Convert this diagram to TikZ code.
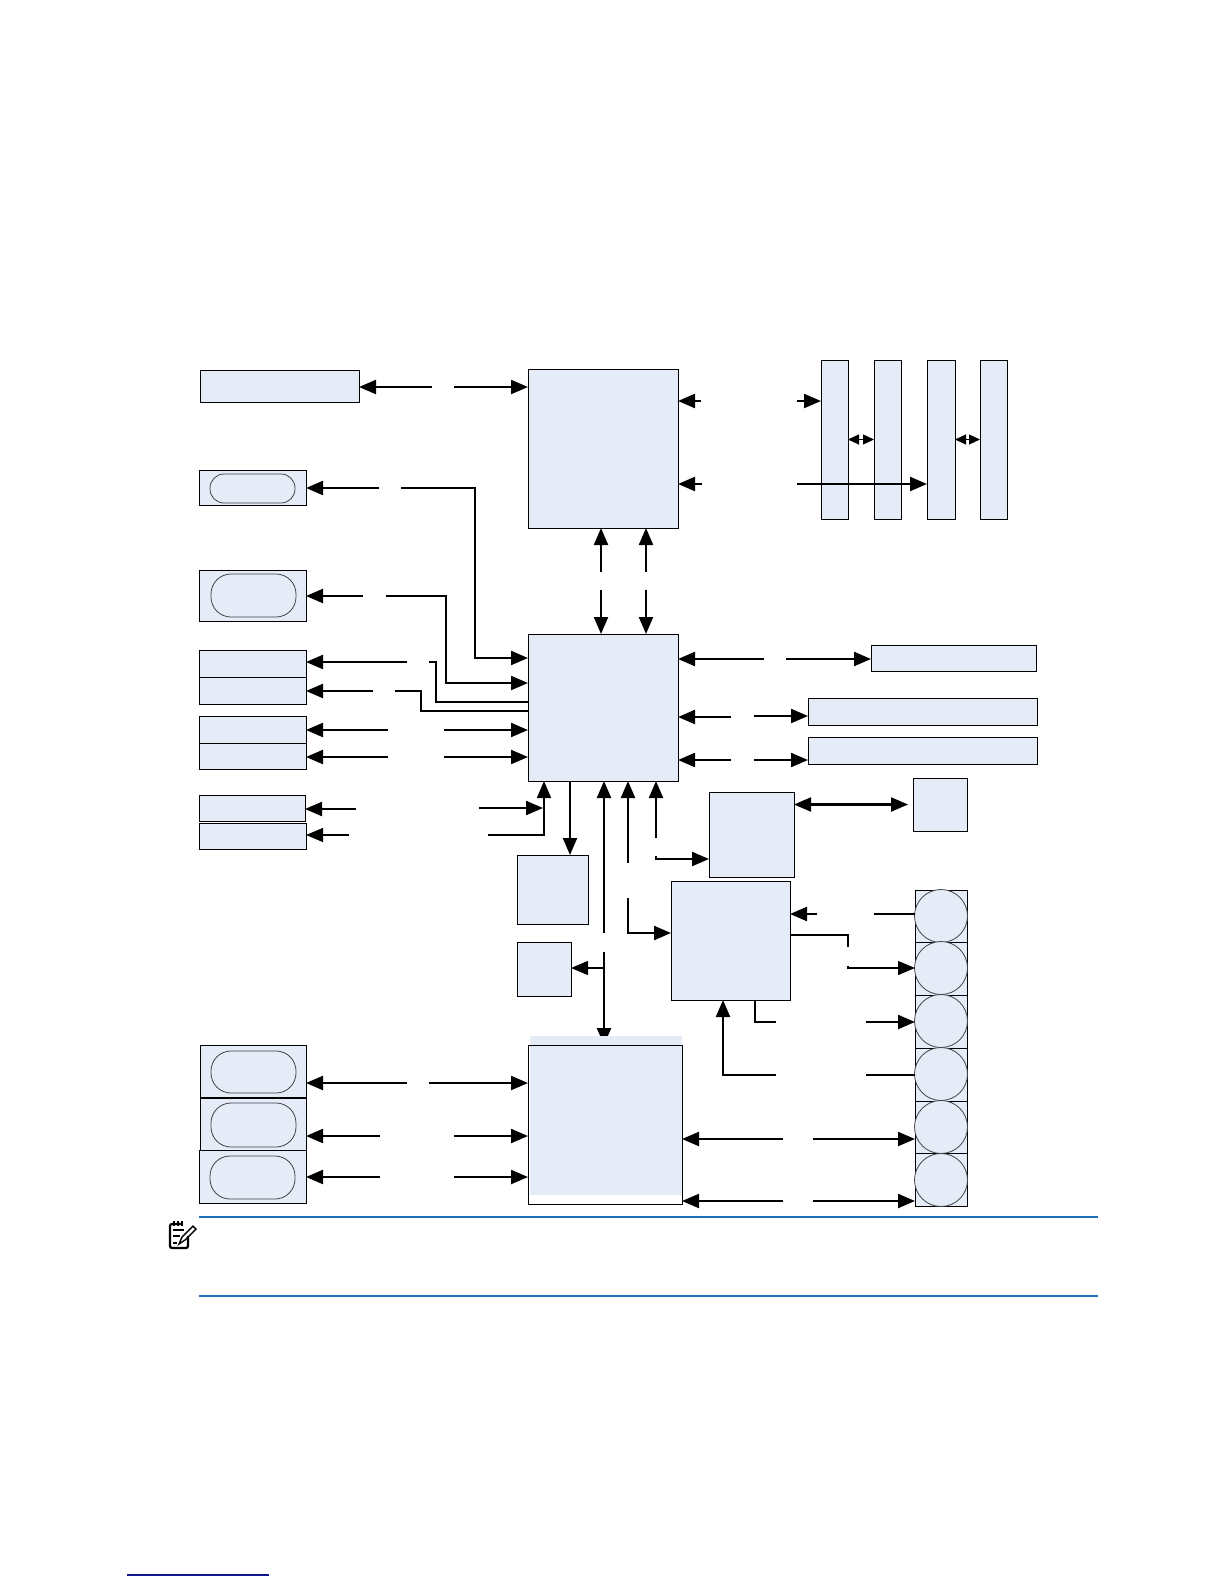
\documentclass[tikz,border=0pt]{standalone}
\usepackage{xcolor}
\usetikzlibrary{positioning,arrows.meta,fit,calc}
\definecolor{cfondo}{HTML}{E6ECF7}
\definecolor{cazul}{HTML}{1F6FB8}
\definecolor{cmarino}{HTML}{14148C}
\definecolor{cgris}{HTML}{3E444A}
\tikzset{
  caja/.style={rectangle, draw=black, fill=cfondo, line width=0.5pt, inner sep=0pt, outer sep=0pt},
  ovalo/.style={caja, draw=cgris, line width=0.4pt, rounded corners=#1},
  circulo/.style={circle, draw=cgris, fill=cfondo, line width=0.4pt, inner sep=0pt, outer sep=0pt, minimum size=26.5pt},
  flecha/.style={-{Triangle[length=8.5pt,width=7pt]}, line width=1.1pt, draw=black},
  flechaf/.style={flecha, line width=0.6pt},
  flechad/.style={{Triangle[length=5.5pt,width=5pt]}-{Triangle[length=5.5pt,width=5pt]}, line width=0.6pt},
  linea/.style={line width=1.1pt, draw=black},
}
\begin{document}
\begin{tikzpicture}[x=0.5pt,y=-0.5pt]
  \useasboundingbox (0,0) rectangle (1224,1584);
  % bloques de la izquierda
  \node[caja, fit={(200,370) (359,402)}] (mem) {};
  \node[caja, fit={(199,470) (306,505)}] (sloti) {};
  \node[ovalo=7pt, fit={(210,474) (295,503)}] (ovi) {};
  \node[caja, fit={(199,570) (306,621)}] (slotii) {};
  \node[ovalo=10pt, fit={(211,574) (296,617)}] (ovii) {};
  \node[caja, fit={(199,650) (306,677)}] (ca) {};
  \node[caja, fit={(199,677) (306,704)}] (cb) {};
  \node[caja, fit={(199,716) (306,743)}] (da) {};
  \node[caja, fit={(199,743) (306,769)}] (db) {};
  \node[caja, fit={(199,795) (305,821)}] (ea) {};
  \node[caja, fit={(199,823) (306,849)}] (eb) {};
  \node[caja, fit={(200,1045) (306,1097.5)}] (fa) {};
  \node[ovalo=10pt, fit={(211,1051) (296,1093)}] (ova) {};
  \node[caja, fit={(200,1098.5) (306,1150)}] (fb) {};
  \node[ovalo=10pt, fit={(211,1103) (296,1147)}] (ovb) {};
  \node[caja, fit={(199,1150) (306,1203)}] (fc) {};
  \node[ovalo=10pt, fit={(210,1156) (295,1199)}] (ovc) {};
  % bloques centrales
  \node[caja, fit={(528,369) (678,528)}] (norte) {};
  \node[caja, fit={(528,634) (678,781)}] (sur) {};
  \node[caja, fit={(517,855) (588,924)}] (q) {};
  \node[caja, fit={(517,942) (571,996)}] (peq) {};
  \node[caja, fit={(709,792) (794,877)}] (p) {};
  \node[caja, fit={(671,881) (790,1000)}] (h) {};
  % la punta queda tapada por la banda superior
  \coordinate (t3) at (604,952);
  \coordinate (t5) at (604,1045);
  \draw[flecha] (t3) -- (t5);
  \node[caja, draw=none, fit={(530,1036) (682,1195)}] (fondo) {};
  \node[caja, fill=none, fit={(528,1045) (682,1204)}] (io) {};
  % bloques de la derecha
  \foreach \n/\xa/\xb in {ma/821/848, mb/874/901, mc/927/955, md/980/1007}
    \node[caja, fit={(\xa,360) (\xb,519)}] (\n) {};
  \node[caja, fit={(871,645) (1036,671)}] (ra) {};
  \node[caja, fit={(808,698) (1037,725)}] (rb) {};
  \node[caja, fit={(808,737) (1037,764)}] (rc) {};
  \node[caja, fit={(913,778) (967,831)}] (cuad) {};
  \foreach \i/\ya/\yb/\yc in {1/890/942/916, 2/942/995/968, 3/995/1048/1021, 4/1048/1101/1074, 5/1101/1153/1127, 6/1153/1206/1180} {
    \node[caja, fit={(915,\ya) (967,\yb)}] (k\i) {};
    \node[circulo] (c\i) at (941,\yc) {};
  }
  % extremos libres
  \coordinate (a1) at (432,387);
  \coordinate (a2) at (454,387);
  \coordinate (b1) at (379,488);
  \coordinate (b2) at (401,488);
  \coordinate (b3) at (475,658);
  \coordinate (d1) at (363,596);
  \coordinate (d2) at (386,596);
  \coordinate (d3) at (446,683);
  \coordinate (e1) at (407,662);
  \coordinate (e2) at (429,662);
  \coordinate (e3) at (436,702);
  \coordinate (f1) at (373,691);
  \coordinate (f2) at (395,691);
  \coordinate (f3) at (421,711);
  \coordinate (g1) at (388,730);
  \coordinate (g2) at (444,730);
  \coordinate (h1) at (388,757);
  \coordinate (h2) at (444,757);
  \coordinate (i1) at (356,809);
  \coordinate (i2) at (479,808);
  \coordinate (i3) at (543,808);
  \coordinate (j1) at (349,835);
  \coordinate (j2) at (488,835);
  \coordinate (j3) at (544,835);
  \coordinate (l1) at (407,1083);
  \coordinate (l2) at (429,1083);
  \coordinate (l3) at (380,1136);
  \coordinate (l4) at (454,1136);
  \coordinate (l5) at (380,1177);
  \coordinate (l6) at (454,1177);
  \coordinate (n1) at (601,572);
  \coordinate (n2) at (601,590);
  \coordinate (n3) at (646,572);
  \coordinate (n4) at (646,590);
  \coordinate (o1) at (701,401);
  \coordinate (o2) at (797,401);
  \coordinate (o3) at (702,484);
  \coordinate (o4) at (797,484);
  \coordinate (s1) at (764,659);
  \coordinate (s2) at (786,659);
  \coordinate (s3) at (731,717);
  \coordinate (s4) at (754,716);
  \coordinate (s5) at (731,760);
  \coordinate (s6) at (754,760);
  \coordinate (t1) at (570,781);
  \coordinate (t2) at (604,933);
  \coordinate (t4) at (604,968);
  \coordinate (u1) at (628,863);
  \coordinate (u2) at (628,898);
  \coordinate (u3) at (628,933);
  \coordinate (v1) at (656,838);
  \coordinate (v2) at (656,856);
  \coordinate (v3) at (656,859);
  \coordinate (w1) at (817,914);
  \coordinate (w2) at (874,914);
  \coordinate (w3) at (790,935);
  \coordinate (w4) at (848,935);
  \coordinate (w5) at (848,947);
  \coordinate (w6) at (848,966);
  \coordinate (w7) at (848,968);
  \coordinate (y1) at (755,1000);
  \coordinate (y2) at (755,1022);
  \coordinate (y3) at (776,1022);
  \coordinate (y4) at (866,1022);
  \coordinate (y5) at (776,1075);
  \coordinate (y6) at (723,1075);
  \coordinate (y7) at (866,1075);
  \coordinate (z1) at (783,1139);
  \coordinate (z2) at (813,1139);
  \coordinate (z3) at (783,1201);
  \coordinate (z4) at (813,1201);
  % conectores de la izquierda
  \draw[flecha] (a1) -- (mem.east |- a1);
  \draw[flecha] (a2) -- (norte.west |- a2);
  \draw[flecha] (b1) -- (sloti.east |- b1);
  \draw[flecha] (b2) -| (b3) -- (sur.west |- b3);
  \draw[flecha] (d1) -- (slotii.east |- d1);
  \draw[flecha] (d2) -| (d3) -- (sur.west |- d3);
  \draw[flecha] (e1) -- (ca.east |- e1);
  \draw[linea] (e2) -| (e3) -- (sur.west |- e3);
  \draw[flecha] (f1) -- (cb.east |- f1);
  \draw[linea] (f2) -| (f3) -- (sur.west |- f3);
  \draw[flecha] (g1) -- (da.east |- g1);
  \draw[flecha] (g2) -- (sur.west |- g2);
  \draw[flecha] (h1) -- (db.east |- h1);
  \draw[flecha] (h2) -- (sur.west |- h2);
  \draw[flecha] (i1) -- (ea.east |- i1);
  \draw[flecha] (i2) -- (i3);
  \draw[flechaf] (j1) -- (eb.east |- j1);
  \draw[flecha, line width=0.8pt] (j2) -- (j3) -- (j3 |- sur.south);
  \draw[flecha] (l1) -- (fa.east |- l1);
  \draw[flecha] (l2) -- (io.west |- l2);
  \draw[flecha] (l3) -- (fb.east |- l3);
  \draw[flecha] (l4) -- (io.west |- l4);
  \draw[flecha] (l5) -- (fc.east |- l5);
  \draw[flecha] (l6) -- (io.west |- l6);
  % conectores centrales
  \draw[flecha] (n1) -- (n1 |- norte.south);
  \draw[flecha] (n2) -- (n2 |- sur.north);
  \draw[flecha] (n3) -- (n3 |- norte.south);
  \draw[flecha] (n4) -- (n4 |- sur.north);
  \draw[flecha] (t1) -- (t1 |- q.north);
  \draw[flecha] (t2) -- (t2 |- sur.south);
  \draw[flechaf] (t4) -- (peq.east |- t4);
  \draw[flecha] (u1) -- (u1 |- sur.south);
  \draw[flecha] (u2) -- (u3) -- (h.west |- u3);
  \draw[flecha] (v1) -- (v1 |- sur.south);
  \draw[flecha] (v2) -- (v3) -- (p.west |- v3);
  % conectores de la derecha
  \draw[flecha] (o1) -- (norte.east |- o1);
  \draw[flecha] (o2) -- (ma.west |- o2);
  \draw[flecha] (o3) -- (norte.east |- o3);
  \draw[flecha] (o4) -- (mc.west |- o4);
  \draw[flechad] (ma.east) -- (mb.west);
  \draw[flechad] (mc.east) -- (md.west);
  \draw[flecha] (s1) -- (sur.east |- s1);
  \draw[flecha] (s2) -- (ra.west |- s2);
  \draw[flecha] (s3) -- (sur.east |- s3);
  \draw[flecha] (s4) -- (rb.west |- s4);
  \draw[flecha] (s5) -- (sur.east |- s5);
  \draw[flecha] (s6) -- (rc.west |- s6);
  \draw[flecha, {Triangle[length=8.5pt,width=7pt]}-{Triangle[length=8.5pt,width=7pt]}] (p.east |- cuad.west) -- ([xshift=-2.5pt]cuad.west);
  \draw[flecha] (w1) -- (h.east |- w1);
  \draw[linea] (k1.west |- w2) -- (w2);
  \draw[linea] (w3) -- (w4) -- (w5);
  \draw[flechaf] (w6) -- (w7) -- (k2.west |- w7);
  \draw[linea] (y1) -- (y2) -- (y3);
  \draw[flecha] (y4) -- (k3.west |- y4);
  \draw[flecha] (y5) -| (y6 |- h.south);
  \draw[linea] (y7) -- (k4.west |- y7);
  \draw[flecha] (z1) -- (io.east |- z1);
  \draw[flecha] (z2) -- (k5.west |- z2);
  \draw[flecha] (z3) -- (io.east |- z3);
  \draw[flecha] (z4) -- (k6.west |- z4);
  % nota
  \draw[cazul, line width=0.6pt] (199,1217) -- (1098,1217);
  \draw[cazul, line width=1.2pt] (199,1296) -- (1098,1296);
  \draw[cmarino, line width=0.6pt] (127,1575) -- (269,1575);
  \draw[line width=1.1pt, rounded corners=1pt] (182,1224) -- (170,1224) -- (170,1248) -- (188,1248) -- (188,1236);
  \foreach \x in {174,178,182}
    \draw[line width=0.6pt] (\x,1221) -- (\x,1226);
  \draw[line width=0.8pt] (173,1230) -- (184,1230);
  \draw[line width=0.8pt] (173,1236) -- (180,1236);
  \draw[line width=0.8pt] (173,1243) -- (177,1243);
  \draw[line width=0.7pt] (179,1244) -- (182,1237) -- (193,1226) -- (196,1229) -- (185,1240) -- cycle;
\end{tikzpicture}
\end{document}
